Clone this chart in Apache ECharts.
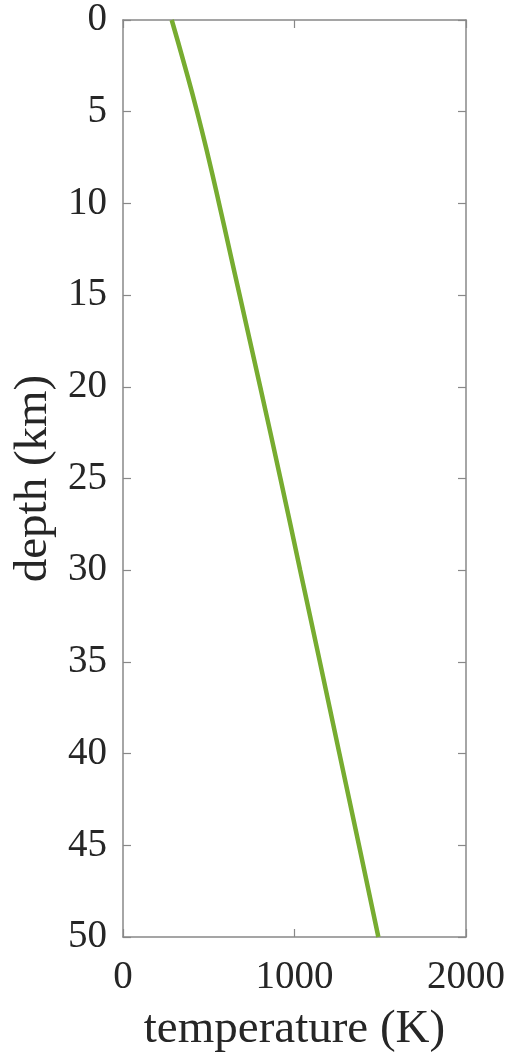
<!DOCTYPE html>
<html>
<head>
<meta charset="utf-8">
<script src="https://cdn.jsdelivr.net/npm/echarts@6/dist/echarts.min.js"></script>
<style>
  html, body { margin: 0; padding: 0; background: #fff; }
  #chart { width: 513px; height: 1058px; }
</style>
</head>
<body>
<div id="chart"></div>
<script>
// depth (km) and temperature (K)
var depth = [0, 2.5, 5, 7.5, 10, 12.5, 15, 20, 25, 30, 35, 40, 45, 50];
var temperature = [284, 360, 432, 498, 560, 620, 680, 800, 918, 1033, 1148, 1262, 1376, 1489];

var points = depth.map(function (d, i) {
  return [temperature[i], d];
});

var chart = echarts.init(document.getElementById('chart'));

var font = 'Liberation Serif';
var axisGray = '#888888';
var textColor = '#262626';

function plain(v) {
  return String(v);
}

function boxAxis(extra) {
  var base = {
    type: 'value',
    axisLine: { show: true, onZero: false, lineStyle: { color: axisGray, width: 1.5 } },
    axisTick: { show: true, inside: true, length: 8, lineStyle: { color: axisGray, width: 1.2 } },
    splitLine: { show: false }
  };
  return Object.assign(base, extra);
}

var option = {
  animation: false,
  grid: { left: 123, right: 47, top: 20, bottom: 118 },
  xAxis: [
    boxAxis({
      position: 'bottom',
      min: 0,
      max: 2000,
      interval: 1000,
      name: 'temperature (K)',
      nameLocation: 'middle',
      nameGap: 69,
      nameTextStyle: { fontFamily: font, fontSize: 47, color: textColor },
      axisLabel: { fontFamily: font, fontSize: 39, color: textColor, margin: 21, formatter: plain }
    }),
    boxAxis({
      position: 'top',
      min: 0,
      max: 2000,
      interval: 1000,
      axisLabel: { show: false }
    })
  ],
  yAxis: [
    boxAxis({
      position: 'left',
      inverse: true,
      min: 0,
      max: 50,
      interval: 5,
      name: 'depth (km)',
      nameLocation: 'middle',
      nameGap: 66,
      nameTextStyle: { fontFamily: font, fontSize: 47, color: textColor },
      axisLabel: { fontFamily: font, fontSize: 39, color: textColor, margin: 16, formatter: plain }
    }),
    boxAxis({
      position: 'right',
      inverse: true,
      min: 0,
      max: 50,
      interval: 5,
      axisLabel: { show: false }
    })
  ],
  series: [
    {
      type: 'line',
      data: points,
      smooth: true,
      showSymbol: false,
      lineStyle: { color: '#77AC30', width: 4.5 }
    }
  ]
};

chart.setOption(option);
</script>
</body>
</html>
